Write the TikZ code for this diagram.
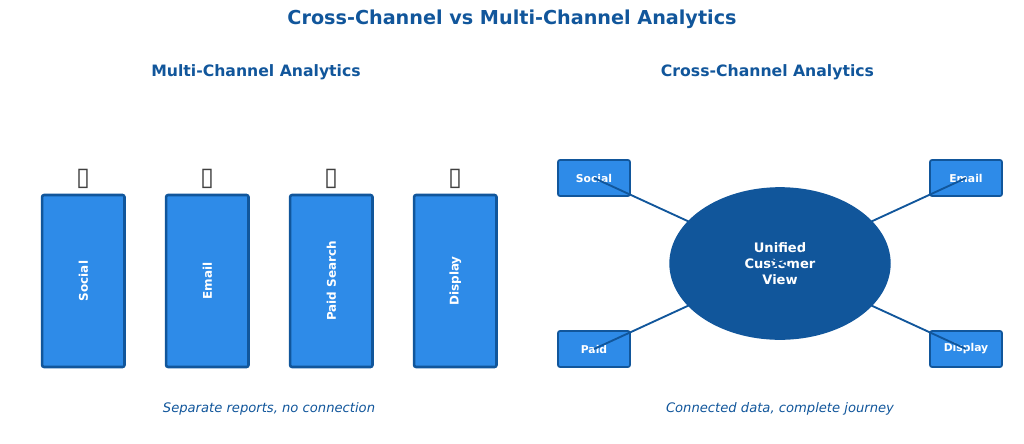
\documentclass[tikz,border=0pt]{standalone}
\usepackage{fontspec}
\setmainfont{DejaVu Sans}
\usetikzlibrary{shapes.geometric}
\definecolor{mid}{HTML}{2E8BE8}
\definecolor{deep}{HTML}{11569B}
\tikzset{
  x=0.75pt,y=-0.75pt,
  maintitle/.style={text=deep,font=\bfseries\fontsize{14.4pt}{17pt}\selectfont,anchor=center,inner sep=0pt},
  subtitle/.style={text=deep,font=\bfseries\fontsize{11.75pt}{14pt}\selectfont,anchor=center,inner sep=0pt},
  caption/.style={text=deep,font=\itshape\fontsize{9.85pt}{12pt}\selectfont,anchor=center,inner sep=0pt},
  bar/.style={draw=deep,fill=mid,line width=1.9pt,rounded corners=1.5pt,minimum width=61.8pt,minimum height=129pt,inner sep=0pt,text=white,font=\bfseries\fontsize{9pt}{11pt}\selectfont},
  chip/.style={draw=deep,fill=mid,line width=1.3pt,rounded corners=1.5pt,minimum width=54pt,minimum height=27pt,inner sep=0pt,text=white,font=\bfseries\fontsize{8.1pt}{9pt}\selectfont},
  hub/.style={ellipse,draw=deep,fill=deep,line width=1pt,minimum width=165pt,minimum height=113.5pt,inner sep=0pt,text=white,align=center,font=\bfseries\fontsize{9.8pt}{12pt}\selectfont},
  icon/.style={inner sep=0pt,text=black!75,font=\fontsize{19pt}{21pt}\selectfont},
  link/.style={draw=deep,line width=1.4pt},
}
\begin{document}
\begin{tikzpicture}
\useasboundingbox (0,0) rectangle (1024,443);
\node[maintitle] (t) at (512,19) {Cross-Channel vs Multi-Channel Analytics};
\node[subtitle] (ml) at (256,72) {Multi-Channel Analytics};
\node[subtitle] (cl) at (767.5,72) {Cross-Channel Analytics};
\node[bar] (b1) at (83.3,281) {\raisebox{-0.3pt}{\rotatebox{90}{Social}}};
\node[bar] (b2) at (207.3,281) {\rotatebox{90}{Email}};
\node[bar] (b3) at (331.3,281) {\rotatebox{90}{Paid Search}};
\node[bar] (b4) at (455.3,281) {\rotatebox{90}{Display}};
\node[icon] (i1) at (83,179) {▯};
\node[icon] (i2) at (207,179) {▯};
\node[icon] (i3) at (331,179) {▯};
\node[icon] (i4) at (455,179) {▯};
\node[hub] (h) at (780,263.5) {Unified\\Customer\\View};
\node[chip] (c1) at (594,178) {Social};
\node[chip] (c2) at (966,178) {Email};
\node[chip] (c3) at (594,349) {Paid};
\node[chip] (c4) at (966,349) {Display};
\draw[link] (c1.center) -- (h.center);
\draw[link] (c2.center) -- (h.center);
\draw[link] (c3.center) -- (h.center);
\draw[link] (c4.center) -- (h.center);
\node[caption] (n1) at (269,408.5) {Separate reports, no connection};
\node[caption] (n2) at (780,408.5) {Connected data, complete journey};
\end{tikzpicture}
\end{document}
